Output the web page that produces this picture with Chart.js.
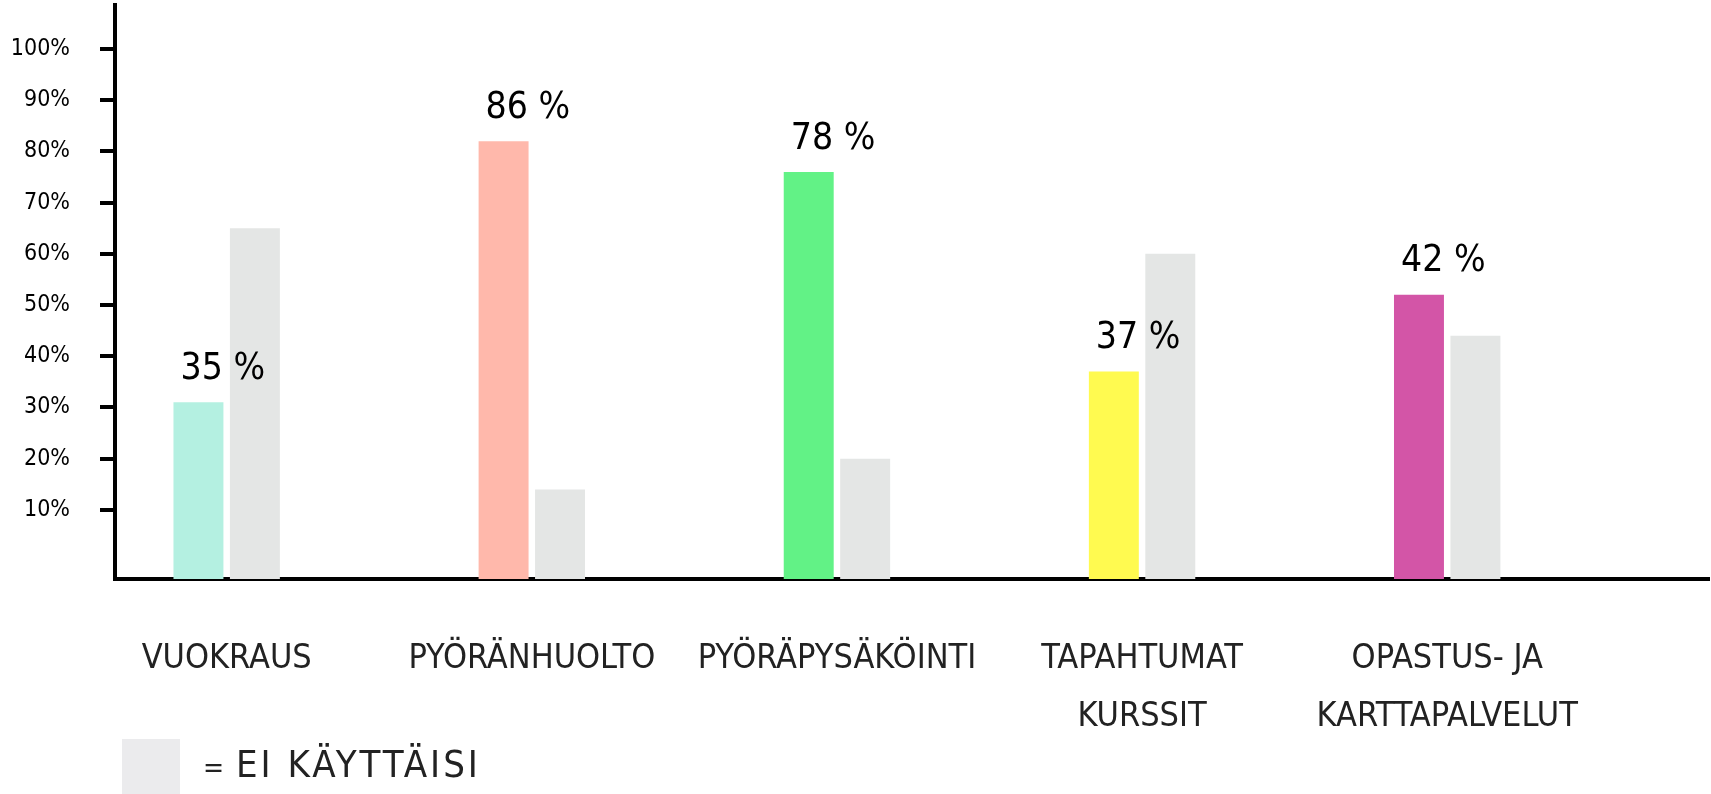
<!DOCTYPE html>
<html>
<head>
<meta charset="utf-8">
<script src="https://cdn.jsdelivr.net/npm/chart.js@4.4.1/dist/chart.umd.min.js"></script>
<style>
  html, body { margin: 0; padding: 0; background: #fff; }
  #wrap { width: 1711px; height: 794px; position: relative; }
</style>
</head>
<body>
<div id="wrap"><canvas id="chart"></canvas></div>
<script>
const categories = [
  ["VUOKRAUS"],
  ["PYÖRÄNHUOLTO"],
  ["PYÖRÄPYSÄKÖINTI"],
  ["TAPAHTUMAT", "KURSSIT"],
  ["OPASTUS- JA", "KARTTAPALVELUT"]
];
// heights as drawn (the sketch does not match its own % labels exactly)
const usesValues = [31, 82, 76, 37, 52];
const notUsesValues = [65, 14, 20, 60, 44];
const valueLabels = ["35 %", "86 %", "78 %", "37 %", "42 %"];
const barColors = ["#b4f0e1", "#ffb8ab", "#62f286", "#fffa50", "#d355a7"];
const greyColor = "#e4e6e5";
const legendLabel = "EI KÄYTTÄISI";
const yTicks = [10, 20, 30, 40, 50, 60, 70, 80, 90, 100];

// hand-drawn axis: zero sits a bit below the first tick spacing
const Y_MIN = -3.5;
const Y_MAX = 108.6;
const X_MIN = -0.366;
const X_MAX = 4.858;

const FONT = "'Liberation Sans Narrow', 'DejaVu Sans Condensed', sans-serif";
Chart.defaults.font.family = FONT;
Chart.defaults.color = "#222";

const valueLabelPlugin = {
  id: "valueLabels",
  afterDatasetsDraw(chart) {
    const ctx = chart.ctx;
    const meta = chart.getDatasetMeta(0);
    ctx.save();
    ctx.font = "37px " + FONT;
    ctx.fillStyle = "#000";
    ctx.textAlign = "left";
    ctx.textBaseline = "middle";
    meta.data.forEach((bar, i) => {
      ctx.fillText(valueLabels[i], bar.x - bar.width / 2 + 7, bar.y - 33);
    });
    ctx.restore();
  }
};

const legendPlugin = {
  id: "sketchLegend",
  afterDraw(chart) {
    const ctx = chart.ctx;
    ctx.save();
    ctx.fillStyle = "#ebebed";
    ctx.fillRect(122, 739, 58, 55);
    ctx.fillStyle = "#222";
    ctx.textBaseline = "middle";
    ctx.font = "28px " + FONT;
    ctx.fillText("=", 203, 770);
    ctx.font = "38px " + FONT;
    ctx.letterSpacing = "3px";
    ctx.fillText(legendLabel, 236, 767);
    ctx.restore();
  }
};

const chart = new Chart(document.getElementById("chart"), {
  type: "bar",
  data: {
    datasets: [
      {
        label: "KÄYTTÄISI",
        data: usesValues.map((v, i) => ({ x: i, y: v })),
        backgroundColor: barColors,
        base: Y_MIN,
        categoryPercentage: 0.37,
        barPercentage: 0.885
      },
      {
        label: legendLabel,
        data: notUsesValues.map((v, i) => ({ x: i, y: v })),
        backgroundColor: greyColor,
        base: Y_MIN,
        categoryPercentage: 0.37,
        barPercentage: 0.885
      }
    ]
  },
  options: {
    responsive: true,
    maintainAspectRatio: false,
    animation: false,
    layout: { padding: { top: 5, right: 2, left: 0, bottom: 0 } },
    plugins: {
      legend: { display: false },
      tooltip: { enabled: false }
    },
    scales: {
      x: {
        type: "linear",
        offset: false,
        min: X_MIN,
        max: X_MAX,
        afterBuildTicks: (scale) => {
          scale.ticks = categories.map((_, i) => ({ value: i }));
        },
        afterFit: (scale) => {
          scale.height = 215;
          scale.paddingLeft = 0;
          scale.paddingRight = 0;
        },
        grid: { display: false, drawTicks: false, offset: false },
        border: { display: true, color: "#000", width: 4 },
        ticks: {
          autoSkip: false,
          maxRotation: 0,
          padding: 52,
          font: { size: 34, lineHeight: 1.68 },
          color: "#222",
          callback: (value) => categories[value]
        }
      },
      y: {
        min: Y_MIN,
        max: Y_MAX,
        afterBuildTicks: (scale) => {
          scale.ticks = yTicks.map((v) => ({ value: v }));
        },
        afterFit: (scale) => {
          scale.width = 115;
          scale.paddingTop = 0;
          scale.paddingBottom = 0;
        },
        grid: {
          display: true,
          drawOnChartArea: false,
          drawTicks: true,
          tickLength: 15,
          lineWidth: 4,
          color: "#000"
        },
        border: { display: true, color: "#000", width: 4 },
        ticks: {
          padding: 30,
          font: { size: 23 },
          color: "#000",
          callback: (value) => value + "%"
        }
      }
    }
  },
  plugins: [valueLabelPlugin, legendPlugin]
});
</script>
</body>
</html>
